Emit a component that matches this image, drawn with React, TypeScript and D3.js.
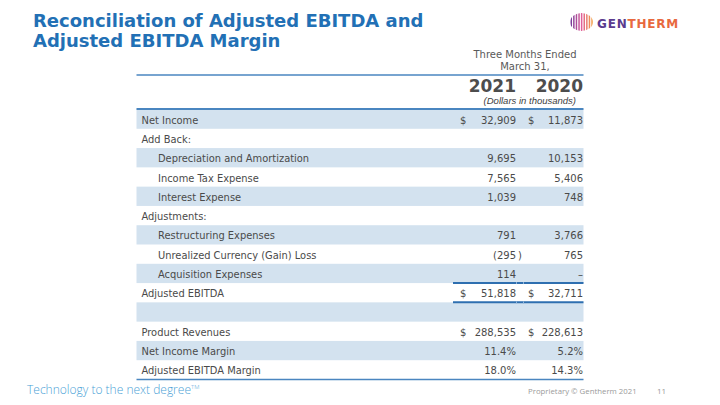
import React from "react";
import * as d3 from "d3";

const rowLabels = [
  "Net Income",
  "Add Back:",
  "Depreciation and Amortization",
  "Income Tax Expense",
  "Interest Expense",
  "Adjustments:",
  "Restructuring Expenses",
  "Unrealized Currency (Gain) Loss",
  "Acquisition Expenses",
  "Adjusted EBITDA",
  "",
  "Product Revenues",
  "Net Income Margin",
  "Adjusted EBITDA Margin",
];
const rowIndent = [0, 0, 1, 1, 1, 0, 1, 1, 1, 0, 0, 0, 0, 0];
const rowKind = ["usd", "none", "num", "num", "num", "none", "num", "num", "num", "usd", "none", "usd", "pct", "pct"];
const values2021 = [32909, null, 9695, 7565, 1039, null, 791, -295, 114, 51818, null, 288535, 11.4, 18.0];
const values2020 = [11873, null, 10153, 5406, 748, null, 3766, 765, 0, 32711, null, 228613, 5.2, 14.3];
const years = ["2021", "2020"];

const TITLE_BLUE = "#2270b5";
const TEXT = "#4a4a4a";
const SHADE = "#d3e2ef";
const LINE = "#4a86c0";
const FONT = "'DejaVu Sans', Verdana, sans-serif";

const fmtNum = d3.format(",");
const fmtPct = d3.format(".1f");

export default function App() {
  const W = 720;
  const H = 405;
  const y = d3
    .scaleBand<number>()
    .domain(d3.range(rowLabels.length))
    .range([109.5, 379.5])
    .paddingInner(0);
  const colRight = [516, 583];
  const dollarX = [460, 528];
  const tableLeft = 136.5;
  const tableRight = 583.5;
  const baseOff = 4.5;

  const logoStripes = d3.range(9);
  const stripeColor = d3
    .scaleLinear<string>()
    .domain([0, 4, 8])
    .range(["#7a3e9a", "#e0609a", "#f29a45"]);

  const renderVal = (v: number | null, kind: string, col: number, i: number) => {
    if (v === null || kind === "none") return null;
    const yc = (y(i) as number) + y.bandwidth() / 2 + baseOff;
    const xr = colRight[col];
    const els: any[] = [];
    if (kind === "usd") {
      els.push(
        <text key="d" x={dollarX[col]} y={yc} fill={TEXT} fontSize={10}>
          $
        </text>
      );
    }
    let txt = "";
    if (kind === "pct") txt = fmtPct(v) + "%";
    else if (v === 0) txt = "–";
    else if (v < 0) txt = "(" + fmtNum(-v);
    else txt = fmtNum(v);
    els.push(
      <text key="v" x={xr} y={yc} fill={TEXT} fontSize={10} textAnchor="end">
        {txt}
      </text>
    );
    if (v < 0) {
      els.push(
        <text key="p" x={xr + 2} y={yc} fill={TEXT} fontSize={10}>
          )
        </text>
      );
    }
    return <g key={"v" + col + "-" + i}>{els}</g>;
  };

  return (
    <svg
      width={W}
      height={H}
      viewBox={`0 0 ${W} ${H}`}
      style={{ position: "absolute", left: 0, top: 0, background: "#fff" }}
      fontFamily={FONT}
    >
      <rect x={0} y={0} width={W} height={H} fill="#fff" />
      {/* Title */}
      <text x={33} y={27} fill={TITLE_BLUE} fontSize={18} fontWeight="bold">
        Reconciliation of Adjusted EBITDA and
      </text>
      <text x={33} y={47} fill={TITLE_BLUE} fontSize={18} fontWeight="bold">
        Adjusted EBITDA Margin
      </text>

      {/* Logo */}
      <defs>
        <clipPath id="logoClip">
          <ellipse cx={581.5} cy={22} rx={11.5} ry={9} />
        </clipPath>
      </defs>
      <g clipPath="url(#logoClip)">
        {logoStripes.map((s) => (
          <rect
            key={s}
            x={570.5 + s * 2.6}
            y={12}
            width={1.5}
            height={20}
            rx={0.7}
            fill={stripeColor(s)}
          />
        ))}
      </g>
      <text x={597} y={27.5} fontSize={12} fontWeight="bold" letterSpacing={0.8} fontFamily="'DejaVu Sans', sans-serif">
        <tspan fill="#5b3b8e">GEN</tspan>
        <tspan fill="#e8693f">THERM</tspan>
      </text>

      {/* Header */}
      <text x={525} y={57.5} fill="#595959" fontSize={10} textAnchor="middle">
        Three Months Ended
      </text>
      <text x={525} y={70} fill="#595959" fontSize={10} textAnchor="middle">
        March 31,
      </text>
      <line x1={tableLeft} x2={tableRight} y1={75} y2={75} stroke={LINE} strokeWidth={1.5} />
      {years.map((yr, c) => (
        <text key={yr} x={colRight[c]} y={92} fill="#4d4d4d" fontSize={17} fontWeight="bold" textAnchor="end">
          {yr}
        </text>
      ))}
      <text
        x={576}
        y={103.5}
        fill="#404040"
        fontSize={9.5}
        fontStyle="italic"
        textAnchor="end"
        fontFamily="'Liberation Sans', Arial, sans-serif"
      >
        (Dollars in thousands)
      </text>

      {/* Shaded rows */}
      {rowLabels.map((_, i) =>
        i % 2 === 0 ? (
          <rect
            key={"s" + i}
            x={tableLeft}
            y={y(i) as number}
            width={tableRight - tableLeft}
            height={y.bandwidth()}
            fill={SHADE}
          />
        ) : null
      )}
      <line x1={tableLeft} x2={tableRight} y1={109} y2={109} stroke={LINE} strokeWidth={2} />

      {/* Row labels and values */}
      {rowLabels.map((lab, i) => (
        <text
          key={"l" + i}
          x={rowIndent[i] ? 158 : 141.5}
          y={(y(i) as number) + y.bandwidth() / 2 + baseOff}
          fill={TEXT}
          fontSize={9.9}
        >
          {lab}
        </text>
      ))}
      {rowLabels.map((_, i) => renderVal(values2021[i], rowKind[i], 0, i))}
      {rowLabels.map((_, i) => renderVal(values2020[i], rowKind[i], 1, i))}

      {/* Underlines */}
      {[8, 9].map((i) => (
        <g key={"u" + i}>
          <line
            x1={453}
            x2={tableRight}
            y1={(y(i) as number) + y.bandwidth()}
            y2={(y(i) as number) + y.bandwidth()}
            stroke="#2e6fb0"
            strokeWidth={2}
          />
          {[516.5, 523.5].map((gx) => (
            <line
              key={gx}
              x1={gx}
              x2={gx}
              y1={(y(i) as number) + y.bandwidth() - 1}
              y2={(y(i) as number) + y.bandwidth() + 1}
              stroke="#8fb4da"
              strokeWidth={1}
            />
          ))}
        </g>
      ))}
      <line
        x1={tableLeft}
        x2={tableRight}
        y1={(y(13) as number) + y.bandwidth()}
        y2={(y(13) as number) + y.bandwidth()}
        stroke={LINE}
        strokeWidth={1.5}
      />

      {/* Footer */}
      <text x={27} y={394} fill="#4a9fd6" fontSize={12} fontFamily="'Open Sans', sans-serif" fontWeight={300}>
        Technology to the next degree
        <tspan fontSize={6} dy={-5}>TM</tspan>
      </text>
      <text x={528} y={394} fill="#9a9a9a" fontSize={7.8} fontFamily="'Open Sans', sans-serif">
        Proprietary © Gentherm 2021
      </text>
      <text x={657} y={394} fill="#9a9a9a" fontSize={8} fontFamily="'Open Sans', sans-serif">
        11
      </text>
    </svg>
  );
}
